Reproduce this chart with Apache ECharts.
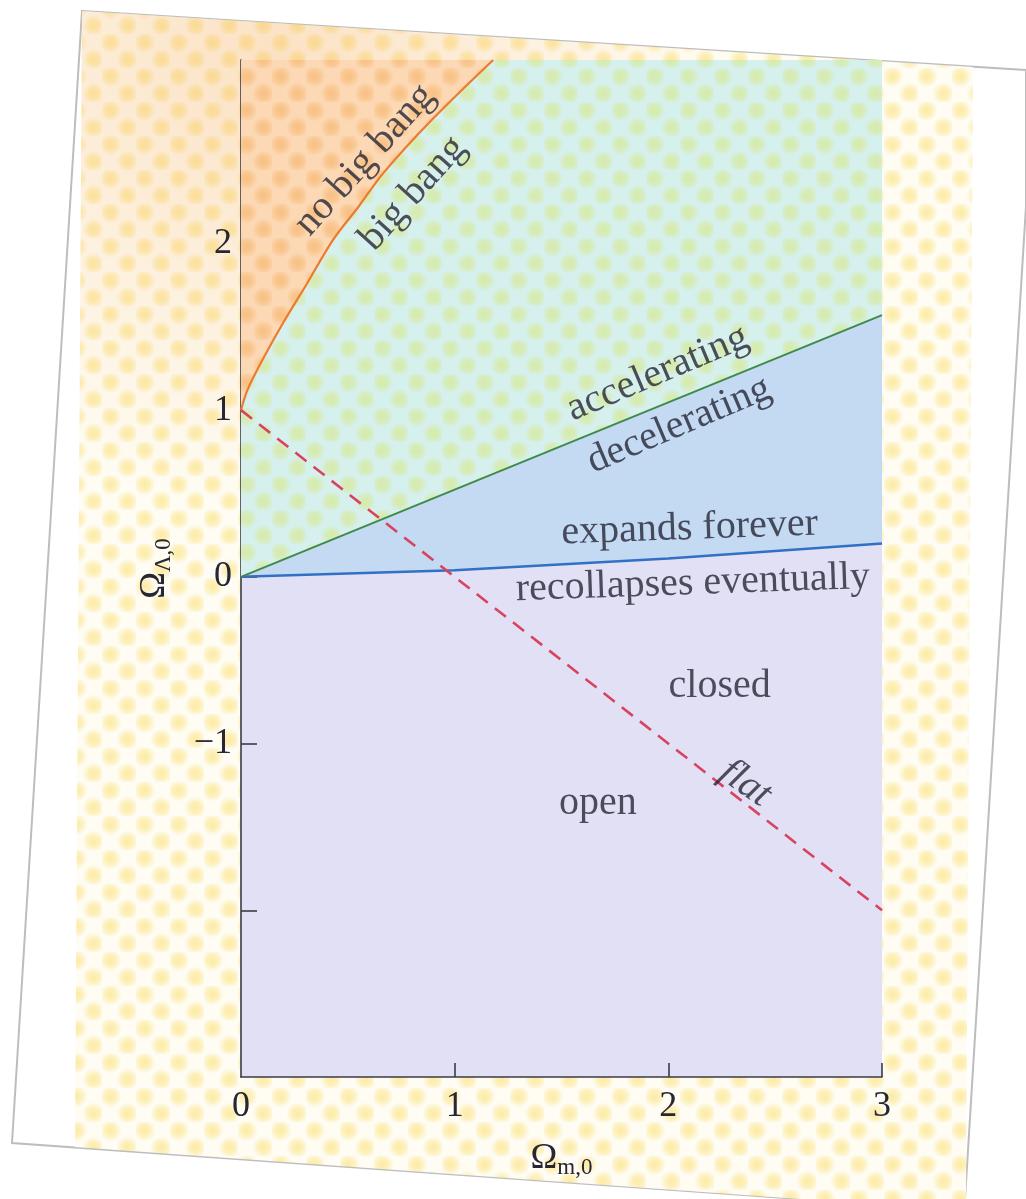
<!DOCTYPE html>
<html>
<head>
<meta charset="utf-8">
<title>Expansion histories in the Ω_m,0 – Ω_Λ,0 plane</title>
<script src="https://cdn.jsdelivr.net/npm/echarts@6/dist/echarts.min.js"></script>
<style>
  html, body { margin: 0; padding: 0; background: #ffffff; }
  #chart { width: 1026px; height: 1199px; }
</style>
</head>
<body>
<div id="chart"></div>
<script>
// Boundary curves in the (Ω_m,0, Ω_Λ,0) plane
const noBigBangEdge   = [[0, 1], [0.03, 1.12], [0.1, 1.3], [0.2, 1.53], [0.3, 1.74], [0.43, 2.02], [0.55, 2.22], [0.665, 2.42], [0.9, 2.75], [1.18, 3.1]];
const accelerationEdge = [[0, 0], [3, 1.57]];
const recollapseEdge   = [[0, 0], [1, 0.04], [2, 0.11], [3, 0.2]];
const flatLine         = [[0, 1], [3, -2]];

// Axis ticks and labels
const xTickValues  = [1, 2, 3];
const xLabelValues = [0, 1, 2, 3];
const yTickValues  = [-2, -1, 0, 1, 2];
const yLabelValues = [-1, 0, 1, 2];

// Region annotations: text, anchor in data units, baseline angle
const regionNames   = ['no big bang', 'big bang', 'accelerating', 'decelerating', 'expands forever', 'recollapses eventually', 'closed', 'open', 'flat'];
const regionAnchors = [[0.58, 2.5], [0.805, 2.3], [1.95, 1.22], [2.05, 0.91], [2.1, 0.29], [2.115, -0.04], [2.24, -0.66], [1.67, -1.36], [2.36, -1.24]];
const regionAngles  = [48, 48, 23, 23, 2, 2, 0, 0, -35];

const SERIF = "'Liberation Serif', 'DejaVu Serif', serif";
const INK = '#262634';

// Printed halftone screen as a repeating tile
function halftone(bg, dotRgb, tile, radius, strength) {
  const c = document.createElement('canvas');
  c.width = tile; c.height = tile;
  const g = c.getContext('2d');
  g.fillStyle = bg;
  g.fillRect(0, 0, tile, tile);
  const centers = [[tile * 0.25, tile * 0.25], [tile * 0.75, tile * 0.75]];
  centers.forEach(([cx, cy]) => {
    const grad = g.createRadialGradient(cx, cy, 0, cx, cy, radius);
    grad.addColorStop(0, 'rgba(' + dotRgb + ',' + strength + ')');
    grad.addColorStop(0.5, 'rgba(' + dotRgb + ',' + (strength * 0.7) + ')');
    grad.addColorStop(1, 'rgba(' + dotRgb + ',0)');
    g.fillStyle = grad;
    g.fillRect(cx - radius, cy - radius, radius * 2, radius * 2);
  });
  return { image: c, repeat: 'repeat' };
}

const pageScreen   = halftone('#fefcf3', '252,232,150', 34, 11, 0.85);
const greenScreen  = halftone('#d6f0ee', '214,234,160', 34, 11, 0.9);
const orangeScreen = halftone('#fcd8b4', '247,188,122', 34, 11, 0.85);

const chart = echarts.init(document.getElementById('chart'), null, { renderer: 'canvas', width: 1026, height: 1199 });

const sheet = [[82, 11], [1026, 70], [1026, 206], [965, 1199], [800, 1199], [12, 1143]];
const printedBand = [[82, 11], [973, 67], [966, 1199], [800, 1199], [75, 1147]];

const option = {
  animation: false,
  backgroundColor: '#ffffff',
  graphic: [
    { type: 'polygon', z: -20, silent: true, shape: { points: sheet },
      style: { fill: '#ffffff', stroke: '#bdbdbd', lineWidth: 2 } },
    { type: 'polygon', z: -19, silent: true, shape: { points: printedBand },
      style: { fill: pageScreen } },
    { type: 'polygon', z: -18, silent: true, shape: { points: printedBand },
      style: { fill: { type: 'radial', x: 0.22, y: 0.04, r: 0.5,
        colorStops: [{ offset: 0, color: 'rgba(246,170,96,0.32)' }, { offset: 1, color: 'rgba(246,170,96,0)' }] } } }
  ],
  grid: {
    left: 241, right: 144, top: 60, bottom: 122,
    containLabel: false, outerBoundsMode: 'none',
    show: true, backgroundColor: '#e1e0f5', borderWidth: 0
  },
  xAxis: {
    type: 'value', min: 0, max: 3, interval: 1,
    name: '{o|Ω}{s|m,0}', nameLocation: 'middle', nameGap: 62,
    nameTextStyle: { rich: {
      o: { fontFamily: SERIF, fontSize: 36, color: INK, lineHeight: 40, verticalAlign: 'middle' },
      s: { fontFamily: SERIF, fontSize: 23, color: INK, lineHeight: 12, verticalAlign: 'bottom' }
    } },
    axisLine: { show: true, onZero: false, lineStyle: { color: '#3b3b45', width: 1.6 } },
    axisTick: { show: true, inside: true, length: 14, customValues: xTickValues, lineStyle: { color: '#3b3b45', width: 1.6 } },
    axisLabel: { customValues: xLabelValues, margin: 12, fontFamily: SERIF, fontSize: 36, color: INK },
    splitLine: { show: false }
  },
  yAxis: {
    type: 'value', min: -3, max: 3.1, interval: 1,
    name: '{o|Ω}{s|Λ,0}', nameLocation: 'middle', nameGap: 66, nameRotate: 90,
    nameTextStyle: { rich: {
      o: { fontFamily: SERIF, fontSize: 36, color: INK, lineHeight: 40, verticalAlign: 'middle' },
      s: { fontFamily: SERIF, fontSize: 23, color: INK, lineHeight: 12, verticalAlign: 'bottom' }
    } },
    axisLine: { show: true, onZero: false, lineStyle: { color: '#3b3b45', width: 1.6 } },
    axisTick: { show: true, inside: true, length: 16, customValues: yTickValues, lineStyle: { color: '#3b3b45', width: 1.6 } },
    axisLabel: { customValues: yLabelValues, margin: 9, fontFamily: SERIF, fontSize: 36, color: INK,
      formatter: v => (v < 0 ? '\u2212' + (-v) : String(v)) },
    splitLine: { show: false }
  },
  series: [
    { // expands forever / recollapses eventually
      type: 'line', data: recollapseEdge, showSymbol: false, z: 2,
      lineStyle: { color: '#3270c6', width: 2.5 },
      areaStyle: { origin: 'end', color: '#c4daf3', opacity: 1 }
    },
    { // accelerating / decelerating
      type: 'line', data: accelerationEdge, showSymbol: false, z: 3,
      lineStyle: { color: '#3f8a4b', width: 2 },
      areaStyle: { origin: 'end', color: greenScreen, opacity: 1 }
    },
    { // big bang / no big bang
      type: 'line', data: noBigBangEdge, showSymbol: false, smooth: 0.3, z: 4,
      lineStyle: { color: '#f07a2c', width: 2.2 },
      areaStyle: { origin: 'end', color: orangeScreen, opacity: 1 }
    },
    { // flat universes
      type: 'line', data: flatLine, showSymbol: false, z: 5,
      lineStyle: { color: '#d8435f', width: 2.6, type: [14, 9] }
    },
    { // region annotations
      type: 'scatter', z: 6, symbolSize: 1, silent: true,
      itemStyle: { color: 'rgba(0,0,0,0)' },
      data: regionNames.map((name, i) => ({
        name: name,
        value: regionAnchors[i],
        label: {
          show: true, position: 'inside', formatter: '{b}', rotate: regionAngles[i],
          fontFamily: SERIF, fontSize: 40, color: INK,
          fontStyle: name === 'flat' ? 'italic' : 'normal'
        }
      }))
    }
  ]
};

chart.setOption(option);
</script>
</body>
</html>
